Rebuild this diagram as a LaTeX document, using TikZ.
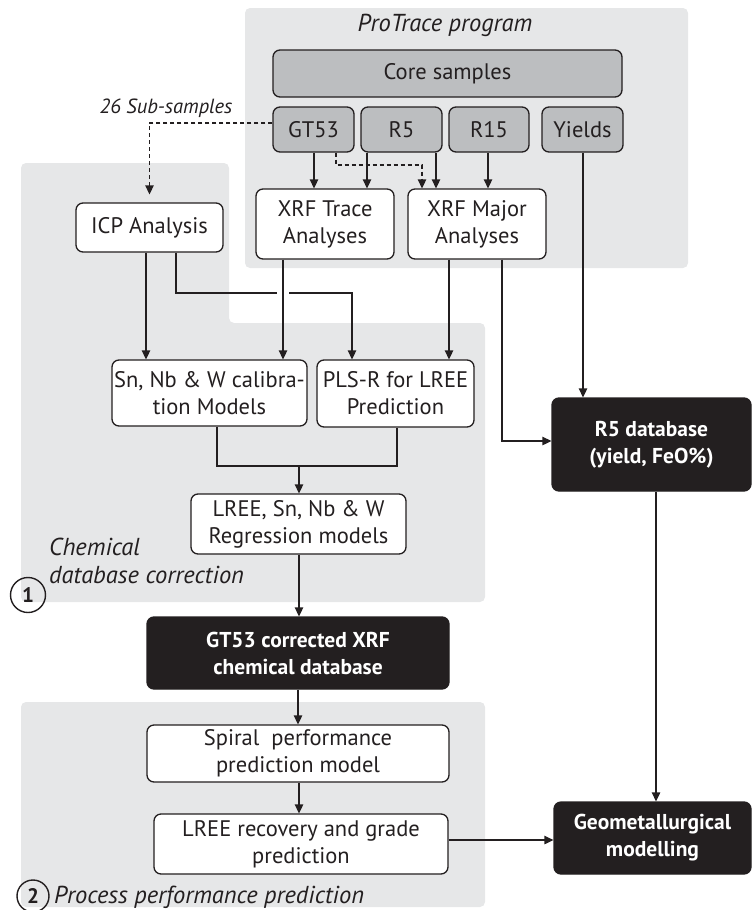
\documentclass[tikz,border=0pt]{standalone}
\usepackage{fontspec}
\setmainfont{PT Sans}
\usetikzlibrary{arrows.meta}
\definecolor{ink}{HTML}{231F20}
\definecolor{panel}{HTML}{E6E7E8}
\definecolor{sgray}{HTML}{BCBEC0}
\begin{document}
\begin{tikzpicture}[x=1pt,y=-1pt,
  box/.style={draw=ink, line width=1.3pt, rounded corners=7pt, fill=white, align=center, inner sep=0pt, font=\fontsize{22.5}{27}\selectfont, text=ink},
  gbox/.style={box, fill=sgray},
  bbox/.style={box, fill=ink, text=white, font=\fontsize{21.5}{27}\selectfont\bfseries},
  conn/.style={draw=ink, line width=1.3pt, -{Triangle[length=9pt,width=8.5pt]}},
  plain/.style={draw=ink, line width=1.3pt},
  dconn/.style={conn, dash pattern=on 4pt off 3pt},
  lbl/.style={font=\fontsize{24.5}{28}\selectfont\itshape, text=ink, inner sep=0pt},
  num/.style={circle, draw=ink, line width=1.4pt, inner sep=0pt, font=\fontsize{21}{21}\selectfont\bfseries, text=ink},
]
\useasboundingbox (0,0) rectangle (752,910);
% panels
\fill[panel, rounded corners=5pt] (245,8) rectangle (688,268);
\fill[panel, rounded corners=5pt] (21,602) -- (21,163) -- (229,163) -- (229,323) -- (485,323) -- (485,602) -- cycle;
\fill[panel, rounded corners=5pt] (21,702) rectangle (485,907);

% labels
\node[lbl] (ptitle) at (445,25) {ProTrace program};
\node[lbl, font=\fontsize{20.5}{24}\selectfont\itshape] (subs) at (166,108) {26 Sub-samples};
\node[lbl, anchor=west] (chem1) at (49,547) {Chemical};
\node[lbl, anchor=west] (chem2) at (49,575) {database correction};
\node[lbl, anchor=west] (proc) at (54,897) {Process performance prediction};
\node[num, minimum size=35pt] (n1) at (28,595) {1};
\node[num, minimum size=32pt] (n2) at (33,896) {2};

% nodes
\node[gbox, minimum width=349pt, minimum height=47pt] (core) at (447.5,73.5) {Core samples};
\node[gbox, minimum width=81pt, minimum height=45pt] (gt53) at (313.5,129.5) {GT53};
\node[gbox, minimum width=81pt, minimum height=45pt] (r5) at (401.5,129.5) {R5};
\node[gbox, minimum width=80pt, minimum height=45pt] (r15) at (489,129.5) {R15};
\node[gbox, minimum width=81pt, minimum height=45pt] (yields) at (582.5,129.5) {Yields};
\node[box, minimum width=138pt, minimum height=70pt] (xrft) at (325,224) {XRF Trace\\Analyses};
\node[box, minimum width=138pt, minimum height=70pt] (xrfm) at (477,224) {XRF Major\\Analyses};
\node[box, minimum width=147pt, minimum height=49pt] (icp) at (149.5,227.5) {ICP Analysis};
\node[box, minimum width=195pt, minimum height=66pt] (sn) at (209.5,393) {Sn, Nb \& W calibra-\\tion Models};
\node[box, minimum width=157pt, minimum height=67pt] (pls) at (395.5,393.5) {PLS-R for LREE\\Prediction};
\node[box, minimum width=215pt, minimum height=60pt] (lree) at (298.5,524) {LREE, Sn, Nb \& W\\Regression models};
\node[bbox, minimum width=302pt, minimum height=72pt] (gt53c) at (298,653) {GT53 corrected XRF\\chemical database};
\node[box, minimum width=302pt, minimum height=57pt] (spiral) at (298,753.5) {Spiral~ performance\\prediction model};
\node[box, minimum width=294pt, minimum height=60pt] (lreerec) at (301,844) {LREE recovery and grade\\prediction};
\node[bbox, minimum width=199pt, minimum height=93pt] (r5db) at (651.5,444.5) {R5 database\\(yield, FeO\%)};
\node[bbox, minimum width=197pt, minimum height=72pt] (geo) at (652.5,838) {Geometallurgical\\modelling};

% connectors
\draw[conn] (gt53.south -| 314,0) -- (xrft.north -| 314,0);
\draw[conn] (r5.south -| 367,0) -- (xrft.north -| 367,0);
\draw[conn] (r5.south -| 436,0) -- (xrfm.north -| 436,0);
\draw[dconn] (gt53.south -| 336,0) |- (422,165) -- (xrfm.north -| 422,0);
\draw[conn] (r15.south -| 488,0) -- (xrfm.north -| 488,0);
\draw[conn] (yields.south -| 583,0) -- (r5db.north -| 583,0);
\draw[dconn, shorten >=8pt] (gt53.west |- 0,123) -| (icp.north);
\draw[conn] (icp.south -| 146,0) -- (sn.north -| 146,0);
\draw[plain] (icp.south -| 176,0) |- (277,293);
\draw[conn] (289,293) -| (pls.north -| 352,0);
\draw[conn] (xrft.south -| 283,0) -- (sn.north -| 283,0);
\draw[conn] (xrfm.south -| 449,0) -- (pls.north -| 449,0);
\draw[conn] (xrfm.south -| 502,0) |- (r5db.west |- 0,441);
\draw[plain] (sn.south -| 217,0) -- (217,466) -- (397,466) -- (pls.south -| 397,0);
\draw[conn] (299,466) -- (lree.north -| 299,0);
\draw[conn] (lree.south -| 299,0) -- (gt53c.north -| 299,0);
\draw[conn] (gt53c.south -| 298,0) -- (spiral.north -| 298,0);
\draw[conn] (spiral.south -| 299,0) -- (lreerec.north -| 299,0);
\draw[conn] (lreerec.east |- 0,840) -- (geo.west |- 0,840);
\draw[conn] (r5db.south -| 656,0) -- (geo.north -| 656,0);
\end{tikzpicture}
\end{document}
